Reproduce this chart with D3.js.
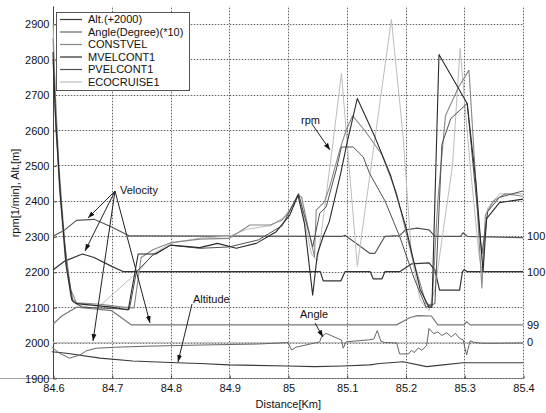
<!DOCTYPE html>
<html><head><meta charset="utf-8">
<script src="https://cdn.jsdelivr.net/npm/d3@7"></script>
<style>body{margin:0;background:#fff}svg{display:block;font-family:"Liberation Sans",Arial,sans-serif}</style>
</head><body><svg id="c" width="546" height="413"></svg>
<script>
const xTicks=[84.6,84.7,84.8,84.9,85.0,85.1,85.2,85.3,85.4];
const yTicks=[1900,2000,2100,2200,2300,2400,2500,2600,2700,2800,2900];
const legendNames=["Alt.(+2000)","Angle(Degree)(*10)","CONSTVEL","MVELCONT1","PVELCONT1","ECOCRUISE1"];
const legendColors=["#3a3a3a","#666","#888","#2a2a2a","#505050","#bdbdbd"];

const altitude=[[84.598,1974],[84.623,1970],[84.68,1956],[84.736,1948],[84.81,1943],[84.85,1941],[84.9,1937],[85.0,1934],[85.045,1932],[85.094,1934],[85.139,1937],[85.156,1941],[85.196,1946],[85.236,1932],[85.264,1937],[85.298,1943],[85.4,1943]];
const angle=[[84.598,1987],[84.611,1970],[84.628,1956],[84.646,1965],[84.657,1977],[84.674,1984],[84.708,1987],[84.765,1990],[84.85,1993],[84.95,1996],[85.0,2000],[85.006,1979],[85.014,1987],[85.054,2002],[85.057,2017],[85.065,2026],[85.091,2007],[85.094,1984],[85.099,2002],[85.139,2008],[85.146,2010],[85.152,2034],[85.158,2004],[85.165,2000],[85.185,1999],[85.19,1968],[85.205,1968],[85.21,1978],[85.215,1972],[85.222,1985],[85.228,1978],[85.236,1992],[85.24,2040],[85.248,2025],[85.255,2030],[85.262,2020],[85.27,2028],[85.278,2016],[85.285,2026],[85.292,2012],[85.298,2008],[85.304,1965],[85.31,2005],[85.316,2001],[85.33,1998],[85.36,1998],[85.4,1999]];
const vel1=[[84.6,2300],[84.62,2318],[84.64,2345],[84.67,2348],[84.70,2326],[84.73,2301],[85.093,2300],[85.097,2303],[85.139,2252],[85.148,2252],[85.165,2300],[85.19,2302],[85.2,2318],[85.22,2323],[85.24,2318],[85.25,2300],[85.294,2300],[85.298,2310],[85.305,2300],[85.4,2296]];
const vel2=[[84.6,2205],[84.62,2230],[84.65,2250],[84.67,2240],[84.70,2215],[84.72,2200],[85.055,2200],[85.06,2174],[85.09,2174],[85.097,2200],[85.14,2200],[85.145,2180],[85.16,2180],[85.165,2200],[85.19,2200],[85.21,2222],[85.24,2225],[85.25,2205],[85.258,2148],[85.292,2148],[85.297,2200],[85.3,2206],[85.305,2200],[85.4,2200]];
const vel3=[[84.6,2052],[84.615,2075],[84.64,2100],[84.70,2090],[84.733,2050],[85.185,2050],[85.207,2070],[85.22,2076],[85.244,2075],[85.255,2050],[85.3,2050],[85.304,2059],[85.31,2050],[85.4,2050]];
const vel4=[[84.6,2000],[85.4,2000]];
const constvel=[[84.6,2860],[84.604,2700],[84.61,2500],[84.62,2280],[84.63,2150],[84.64,2112],[84.68,2108],[84.72,2100],[84.738,2098],[84.75,2240],[84.77,2262],[84.80,2282],[84.85,2292],[84.90,2294],[84.935,2332],[84.97,2332],[84.99,2346],[85.003,2374],[85.017,2416],[85.023,2411],[85.045,2242],[85.048,2374],[85.062,2397],[85.071,2440],[85.088,2543],[85.099,2600],[85.11,2640],[85.13,2600],[85.16,2530],[85.185,2420],[85.21,2250],[85.235,2110],[85.245,2105],[85.255,2400],[85.268,2640],[85.29,2720],[85.308,2769],[85.318,2500],[85.33,2154],[85.336,2360],[85.35,2400],[85.37,2420],[85.4,2413]];
const mvelcont=[[84.6,2820],[84.604,2650],[84.612,2430],[84.622,2220],[84.632,2120],[84.64,2110],[84.70,2100],[84.728,2092],[84.745,2250],[84.775,2250],[84.80,2275],[84.85,2268],[84.88,2280],[84.912,2266],[84.946,2280],[84.98,2313],[85.003,2360],[85.017,2416],[85.028,2336],[85.042,2134],[85.05,2250],[85.06,2300],[85.07,2340],[85.09,2480],[85.1,2560],[85.118,2689],[85.148,2580],[85.175,2470],[85.2,2330],[85.225,2150],[85.24,2100],[85.245,2100],[85.257,2813],[85.305,2675],[85.32,2450],[85.332,2200],[85.338,2350],[85.36,2395],[85.4,2405]];
const pvelcont=[[84.6,2800],[84.605,2600],[84.613,2400],[84.624,2210],[84.634,2115],[84.65,2100],[84.70,2096],[84.73,2094],[84.742,2200],[84.77,2247],[84.80,2275],[84.85,2266],[84.90,2270],[84.95,2290],[84.99,2330],[85.018,2420],[85.042,2270],[85.054,2365],[85.065,2383],[85.082,2487],[85.091,2552],[85.111,2552],[85.128,2524],[85.139,2477],[85.165,2400],[85.19,2300],[85.215,2180],[85.235,2100],[85.25,2110],[85.262,2560],[85.277,2632],[85.305,2675],[85.318,2450],[85.33,2250],[85.34,2370],[85.36,2410],[85.4,2428]];
const ecocruise=[[84.6,2900],[84.604,2700],[84.61,2450],[84.62,2250],[84.63,2130],[84.645,2105],[84.674,2095],[84.748,2205],[84.77,2250],[84.80,2280],[84.85,2295],[84.90,2300],[84.93,2320],[84.97,2330],[85.0,2360],[85.018,2422],[85.04,2250],[85.05,2230],[85.06,2350],[85.077,2571],[85.091,2760],[85.118,2215],[85.145,2540],[85.176,2912],[85.196,2581],[85.21,2250],[85.225,2120],[85.24,2090],[85.25,2150],[85.28,2500],[85.293,2830],[85.31,2500],[85.325,2250],[85.33,2200],[85.34,2380],[85.36,2420],[85.4,2420]];

const rightLabels=[["100",2300],["100",2200],["99",2050],["0",2000]];

const svg=d3.select("#c");
const x=d3.scaleLinear([84.6,85.4],[53,523]);
const y=d3.scaleLinear([1900,2950],[378,6]);
const fmt=d=>String(+d.toFixed(1));
const px=v=>Math.round(v)+0.5;

// grid: light solid base plus dotted overlay
const gridPath=xTicks.map(d=>`M${px(x(d))},378V6`).join("")+yTicks.map(d=>`M53,${px(y(d))}H524`).join("");
svg.append("path").attr("d",gridPath).attr("fill","none").attr("stroke","#d4d4d4").attr("stroke-width",1);
svg.append("path").attr("d",gridPath).attr("fill","none").attr("stroke","#666").attr("stroke-width",1)
 .attr("stroke-dasharray","1,2");

// axes
const ax=svg.append("g").attr("transform",`translate(0.5,${px(y(1900))})`).call(d3.axisBottom(x).tickValues(xTicks).tickFormat(fmt).tickSize(-3).tickPadding(6));
const ay=svg.append("g").attr("transform",`translate(${px(x(84.6))},0.5)`).call(d3.axisLeft(y).tickValues(yTicks).tickFormat(d3.format("d")).tickSize(-3).tickPadding(4));
[ax,ay].forEach(a=>{a.select(".domain").attr("stroke","#444");a.selectAll(".tick line").attr("stroke","#444");a.selectAll("text").attr("font-size","11px").attr("fill","#111").attr("font-family","Liberation Sans, Arial, sans-serif");});
ay.select(".domain").attr("d",`M0,${Math.round(y(1900))}V${Math.round(y(2950))}`);
ax.select(".domain").attr("stroke-dasharray","1,1").attr("d",`M0,0H${x(85.4)}`);

const line=d3.line().x(d=>x(d[0])).y(d=>y(d[1]));
const series=[
 [vel4,"#c4c4c4",1.3],[vel3,"#777",1.2],[vel2,"#333",1.2],[vel1,"#555",1.2],
 [altitude,"#3a3a3a",1.1],[angle,"#666",1],
 [ecocruise,"#bdbdbd",1],[constvel,"#888",1.1],[pvelcont,"#505050",1],[mvelcont,"#2a2a2a",1.1]
];
svg.append("g").selectAll("path").data(series).join("path").attr("d",d=>line(d[0])).attr("fill","none")
 .attr("stroke",d=>d[1]).attr("stroke-width",d=>d[2]).attr("stroke-linejoin","round");

// right labels
svg.append("g").selectAll("text").data(rightLabels).join("text").attr("x",527).attr("y",d=>y(d[1])).attr("dy","0.35em")
 .attr("font-size","11px").attr("fill","#111").text(d=>d[0]);

// axis titles
svg.append("text").attr("transform","translate(15,193) rotate(-90)").attr("text-anchor","middle").attr("dy","0.35em").attr("font-size","11px").attr("fill","#111").text("rpm[1/min], Alt.[m]");
svg.append("text").attr("x",288.3).attr("y",408).attr("text-anchor","middle").attr("font-size","11px").attr("fill","#111").text("Distance[Km]");

// annotations
const defs=svg.append("defs");
defs.append("marker").attr("id","ah").attr("viewBox","0 0 10 10").attr("refX",10).attr("refY",5).attr("markerWidth",7).attr("markerHeight",7).attr("orient","auto")
 .append("path").attr("d","M0,1.5L10,5L0,8.5Z").attr("fill","#111");
const arrows=[[115,191,88,218],[115,191,85,251],[115,191,93,341],[115,191,150,323],[192,304,178,362],[312,124,330,150],[315,323,323,337]];
svg.append("g").selectAll("line").data(arrows).join("line").attr("x1",d=>d[0]).attr("y1",d=>d[1]).attr("x2",d=>d[2]).attr("y2",d=>d[3])
 .attr("stroke","#222").attr("stroke-width",1).attr("marker-end","url(#ah)");
const notes=[["Velocity",120,194],["Altitude",193,303],["Angle",300,318],["rpm",301,124]];
svg.append("g").selectAll("text").data(notes).join("text").attr("x",d=>d[1]).attr("y",d=>d[2]).attr("font-size","11px").attr("fill","#111").text(d=>d[0]);

// legend
const lg=svg.append("g");
lg.append("rect").attr("x",56.5).attr("y",12.5).attr("width",133).attr("height",78).attr("fill","#fff").attr("stroke","#555");
legendNames.forEach((n,i)=>{
 const yy=19.5+i*12.5;
 lg.append("line").attr("x1",60).attr("x2",82).attr("y1",yy).attr("y2",yy).attr("stroke",legendColors[i]).attr("stroke-width",1.2);
 lg.append("text").attr("x",88).attr("y",yy).attr("dy","0.35em").attr("font-size","11px").attr("fill","#111").text(n);
});
</script></body></html>
